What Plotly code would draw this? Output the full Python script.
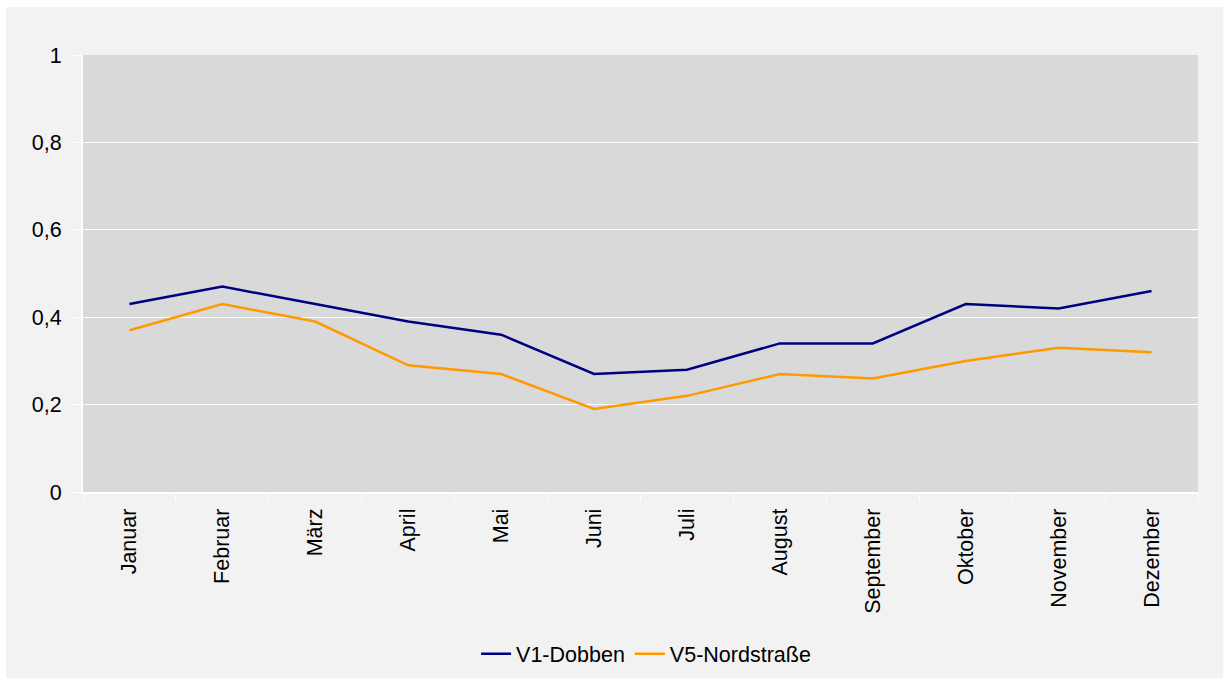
import plotly.graph_objects as go

monate = ["Januar", "Februar", "März", "April", "Mai", "Juni", "Juli",
          "August", "September", "Oktober", "November", "Dezember"]
v1_dobben = [0.43, 0.47, 0.43, 0.39, 0.36, 0.27, 0.28, 0.34, 0.34, 0.43, 0.42, 0.46]
v5_nordstrasse = [0.37, 0.43, 0.39, 0.29, 0.27, 0.19, 0.22, 0.27, 0.26, 0.30, 0.33, 0.32]
y_ticks = [0, 0.2, 0.4, 0.6, 0.8, 1]

font = "Liberation Sans, Arial, sans-serif"
fsize = 21.5

fig = go.Figure()
fig.add_trace(go.Scatter(x=monate, y=v1_dobben, mode="lines", name="V1-Dobben",
                         line=dict(color="#000080", width=2.5)))
fig.add_trace(go.Scatter(x=monate, y=v5_nordstrasse, mode="lines", name="V5-Nordstraße",
                         line=dict(color="#FF9900", width=2.5)))

# thin white border around the grey chart frame (left and top edges wider)
white_strips = [
    dict(x0=-0.2, x1=-0.0691, y0=-0.6, y1=1.3),   # left
    dict(x0=-0.2, x1=1.2, y0=1.1098, y1=1.3),     # top
    dict(x0=1.0226, x1=1.2, y0=-0.6, y1=1.3),     # right
    dict(x0=-0.2, x1=1.2, y0=-0.6, y1=-0.4260),   # bottom
]
for s in white_strips:
    fig.add_shape(type="rect", xref="paper", yref="paper", fillcolor="white",
                  line=dict(width=0), layer="below", **s)

fig.update_layout(
    width=1224, height=679,
    margin=dict(l=83, r=26, t=55, b=187, autoexpand=False),
    paper_bgcolor="#F2F2F2",
    plot_bgcolor="#D9D9D9",
    separators=", ",
    font=dict(family=font, size=fsize, color="black"),
    showlegend=True,
    legend=dict(orientation="h", x=0.505, xanchor="center", y=-0.37, yanchor="middle",
                bgcolor="rgba(0,0,0,0)", font=dict(size=fsize)),
    xaxis=dict(type="category", tickangle=-90, showgrid=False,
               showline=True, linecolor="white", linewidth=2,
               ticks="outside", tickson="boundaries", ticklen=7, tickcolor="white",
               ticklabelstandoff=6, tickfont=dict(size=fsize), range=[-0.5, 11.5]),
    yaxis=dict(range=[0, 1], tickvals=y_ticks, showgrid=True, gridcolor="white", gridwidth=1,
               showline=True, linecolor="white", linewidth=2, zeroline=False,
               ticks="outside", ticklen=8, tickcolor="white",
               ticklabelstandoff=7, tickfont=dict(size=fsize)),
)

fig.write_html("out.html")
